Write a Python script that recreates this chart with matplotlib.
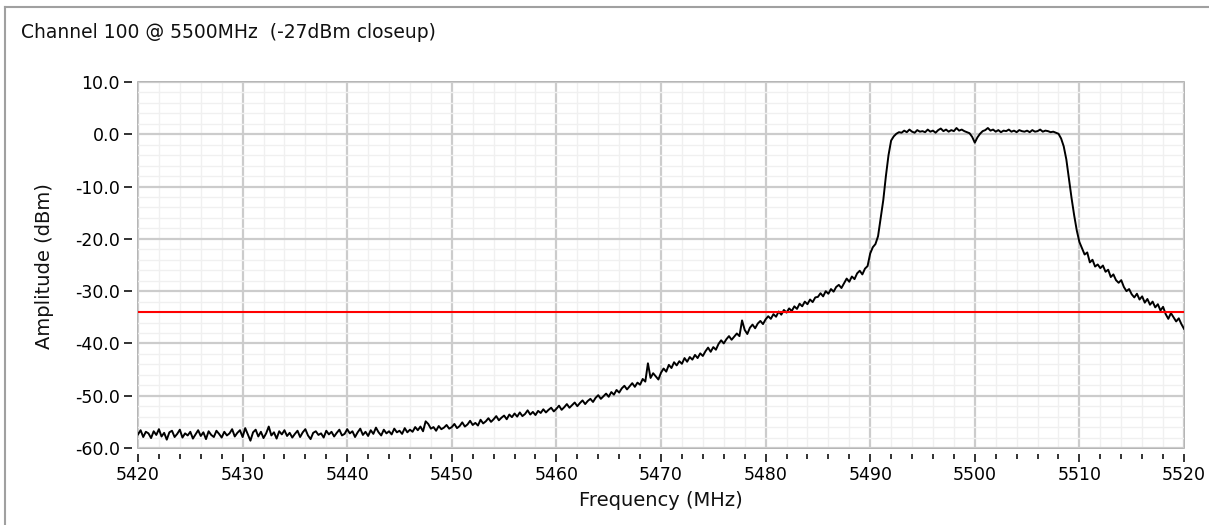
import numpy as np
import matplotlib
matplotlib.use('Agg')
import matplotlib.pyplot as plt
from matplotlib.ticker import MultipleLocator, FormatStrFormatter

#%% data (0.25 MHz steps)
f_start, f_stop = 5420, 5520
threshold = -34.0
title = 'Channel 100 @ 5500MHz  (-27dBm closeup)'

amp = [
    -57.4, -56.6, -57.9, -56.9, -57.2, -58.1, -56.8, -57.5, -56.4, -57.8, -57.1, -58.4, -57.0, -56.7, -57.9, -57.3, -56.5, -58.0, -57.2, -57.6,  # 5420
    -56.9, -58.2, -57.4, -56.6, -57.7, -57.0, -58.3, -56.8, -57.5, -57.9, -56.7, -57.3, -58.0, -56.9, -57.6, -57.2, -56.4, -57.8, -57.1, -56.6,  # 5425
    -57.9, -56.2, -57.4, -58.6, -57.0, -56.5, -57.8, -56.9, -58.1, -57.2, -55.9, -57.6, -57.0, -58.2, -56.8, -57.4, -56.6, -57.7, -57.1, -58.0,  # 5430
    -57.3, -56.7, -57.9, -57.0, -56.4, -57.6, -58.3, -57.1, -56.8, -57.5, -57.2, -58.0, -56.7, -57.4, -56.9, -57.8, -57.1, -56.5, -57.6, -57.3,  # 5435
    -56.4, -57.2, -56.8, -57.9, -57.0, -56.3, -57.5, -56.9, -57.7, -56.6, -57.3, -56.1, -57.0, -57.6, -56.5, -57.2, -56.8, -57.4, -56.3, -57.0,  # 5440
    -56.7, -57.3, -56.2, -57.0, -56.5, -56.9, -56.0, -56.6, -55.9, -56.8, -54.9, -55.4, -56.3, -56.0, -56.7, -55.8, -56.4, -56.1, -55.6, -56.3,  # 5445
    -56.0, -55.4, -56.2, -55.8, -55.1, -55.9, -55.5, -54.8, -55.6, -55.2, -55.7, -54.6, -55.3, -54.9, -54.3, -55.0, -54.5, -53.9, -54.7, -54.2,  # 5450
    -53.8, -54.5, -53.6, -54.1, -53.4, -54.0, -53.2, -53.9, -53.5, -52.8, -53.6, -53.1, -53.7, -52.9, -53.3, -52.6, -53.2, -52.7, -52.3, -53.0,  # 5455
    -52.5, -51.9, -52.7, -52.2, -51.6, -52.3, -51.8, -51.3, -52.0, -51.4, -50.9, -51.6, -51.0, -50.6, -51.2, -50.4, -49.9, -50.6, -50.1, -49.6,  # 5460
    -50.2, -49.3, -49.8, -48.9, -49.4, -48.6, -48.1, -48.8, -48.2, -47.6, -48.3, -47.5, -47.9, -46.8, -47.3, -43.8, -46.6, -45.7, -46.3, -46.9,  # 5465
    -45.6, -44.8, -45.4, -44.1, -44.7, -43.6, -44.2, -43.4, -43.9, -42.8, -43.5, -42.6, -43.1, -42.2, -42.8, -41.9, -42.4, -41.5, -40.8, -41.6,  # 5470
    -40.7, -41.2, -40.1, -39.4, -40.0, -39.2, -38.6, -39.3, -38.7, -38.1, -38.6, -35.6, -37.4, -38.2, -37.0, -36.4, -37.1, -36.2, -35.7, -36.3,  # 5475
    -35.4, -34.8, -35.3, -34.4, -34.9, -33.9, -34.5, -33.6, -34.1, -33.3, -33.8, -32.9, -33.4, -32.4, -32.9, -32.0, -32.5, -31.6, -32.1, -31.2,  # 5480
    -31.1, -30.4, -31.0, -30.0, -30.5, -29.6, -30.1, -29.2, -28.8, -29.4, -28.5, -27.6, -28.2, -27.2, -27.7, -26.6, -26.1, -26.8, -25.7, -25.2,  # 5485
    -22.8, -21.6, -21.0, -19.5, -16.0, -12.6, -8.0, -4.0, -1.2, -0.4, 0.1, 0.4, 0.3, 0.7, 0.4, 0.9, 0.5, 0.3, 0.8, 0.5,  # 5490
    0.6, 0.4, 0.9, 0.5, 0.7, 0.3, 0.8, 1.1, 0.6, 0.9, 0.5, 0.8, 0.6, 1.2, 0.7, 0.9, 0.6, 0.4, 0.2, -0.5,  # 5495
    -1.6, -0.6, 0.1, 0.6, 0.8, 1.2, 0.7, 0.9, 0.5, 0.8, 0.4, 0.7, 0.6, 0.9, 0.5, 0.7, 0.4, 0.8, 0.6, 0.5,  # 5500
    0.7, 0.4, 0.8, 0.5, 0.6, 0.9, 0.5, 0.7, 0.6, 0.4, 0.5, 0.3, 0.1, -0.8, -2.3, -4.8, -8.5, -12.2, -15.5, -18.4,  # 5505
    -20.6, -21.8, -23.0, -22.6, -24.5, -24.0, -25.3, -24.9, -25.6, -25.1, -26.3, -25.9, -27.3, -26.8, -27.9, -28.4, -27.9, -29.2, -30.0, -29.6,  # 5510
    -30.6, -31.2, -30.5, -31.6, -31.0, -32.2, -31.5, -32.6, -32.0, -33.1, -32.5, -33.7, -33.0, -34.4, -35.3, -34.2, -35.0, -35.8, -35.2, -36.3,  # 5515
    -37.2,  # 5520
]
freq = np.linspace(f_start, f_stop, len(amp))

#%% figure
fig = plt.figure(figsize=(12.09, 5.25), dpi=100)
fig.patch.set_facecolor('white')
# window frame (left + top edge)
fig.add_artist(plt.Line2D([5 / 1209, 5 / 1209], [0, 1 - 7 / 525], color='#a0a0a0', lw=1.5))
fig.add_artist(plt.Line2D([5 / 1209, 1], [1 - 7 / 525, 1 - 7 / 525], color='#a0a0a0', lw=1.5))

ax = fig.add_axes([138 / 1209, 1 - 448 / 525, 1046 / 1209, 366 / 525])
ax.plot(freq, amp, color='black', lw=1.4, zorder=3)
ax.axhline(threshold, color='#ff0000', lw=1.5, zorder=4)

ax.set_xlim(f_start, f_stop)
ax.set_ylim(-60, 10)
ax.xaxis.set_major_locator(MultipleLocator(10))
ax.xaxis.set_minor_locator(MultipleLocator(2))
ax.yaxis.set_major_locator(MultipleLocator(10))
ax.yaxis.set_minor_locator(MultipleLocator(2))
ax.yaxis.set_major_formatter(FormatStrFormatter('%.1f'))

ax.grid(which='major', color='#cccccc', lw=1.6, zorder=1)
ax.grid(which='minor', color='#f0f0f0', lw=1.0, zorder=0)
ax.set_axisbelow(True)

# ticks sit a little away from the plot area, like the LabVIEW graph
for side in ['bottom', 'left']:
    ax.spines[side].set_position(('outward', 4))
    ax.spines[side].set_visible(False)
for side in ['top', 'right']:
    ax.spines[side].set_visible(False)
ax.patch.set_edgecolor('#a8a8a8')
ax.patch.set_linewidth(1.2)

ax.tick_params(axis='x', which='major', direction='out', length=6, width=1.3, color='#222222',
               labelsize=12.5, pad=3)
ax.tick_params(axis='x', which='minor', direction='out', length=3.5, width=1.3, color='#222222')
ax.tick_params(axis='y', which='major', direction='out', length=6, width=1.3, color='#222222',
               labelsize=12.5, pad=3)
ax.tick_params(axis='y', which='minor', length=0)

fig.text(21 / 1209, 1 - 33 / 525, title, ha='left', va='center', fontsize=13.5, color='#111111')
fig.text(661 / 1209, 1 - 500 / 525, 'Frequency (MHz)', ha='center', va='center', fontsize=14, color='#111111')
fig.text(45 / 1209, 1 - 266 / 525, 'Amplitude (dBm)', ha='center', va='center', rotation=90,
         fontsize=14, color='#111111')

fig.savefig('out.png', dpi=100)
